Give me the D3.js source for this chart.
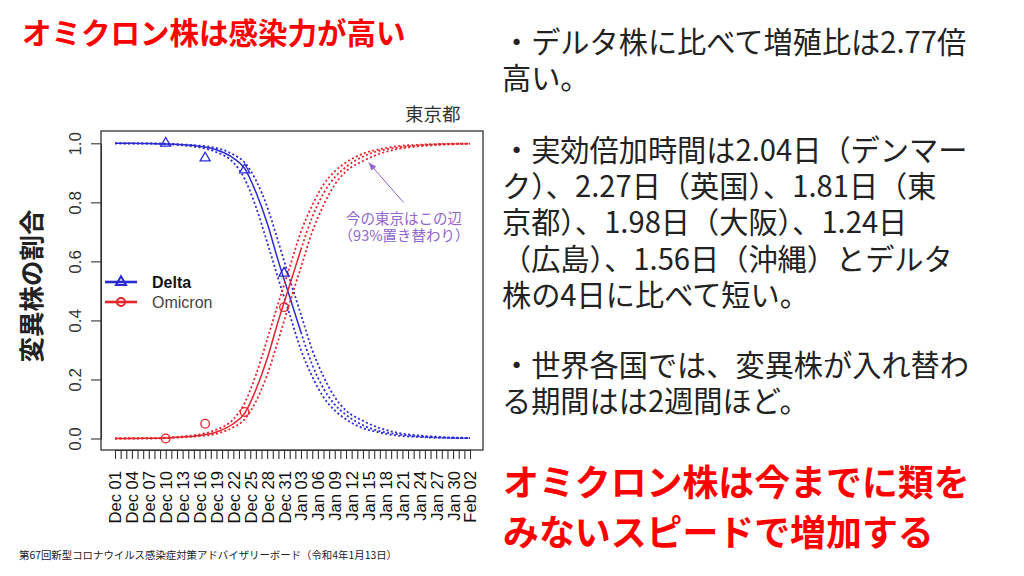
<!DOCTYPE html>
<html>
<head>
<meta charset="utf-8">
<script src="https://cdn.jsdelivr.net/npm/d3@7"></script>
<style>
  html, body { margin: 0; padding: 0; background: #fff; }
  svg { display: block; }
</style>
</head>
<body>
<svg id="chart" width="1024" height="576"></svg>
<script>
// ---------------- data ----------------
const titleText = "オミクロン株は感染力が高い";
const regionLabel = "東京都";
const yAxisTitle = "変異株の割合";
const seriesNames = ["Delta", "Omicron"];

const xTickLabels = ["Dec 01","Dec 04","Dec 07","Dec 10","Dec 13","Dec 16","Dec 19","Dec 22","Dec 25","Dec 28","Dec 31",
                     "Jan 03","Jan 06","Jan 09","Jan 12","Jan 15","Jan 18","Jan 21","Jan 24","Jan 27","Jan 30","Feb 02"];
const yTickValues = [0.0, 0.2, 0.4, 0.6, 0.8, 1.0];

// observed weekly proportions
const obsDates   = ["2021-12-10","2021-12-17","2021-12-24","2021-12-31"];
const deltaObs   = [1.00, 0.95, 0.91, 0.56];
const omicronObs = [0.00, 0.05, 0.09, 0.445];

// fitted curves
const curveDates = ["2021-12-01","2021-12-04","2021-12-07","2021-12-10","2021-12-13","2021-12-16","2021-12-19","2021-12-22",
                    "2021-12-24","2021-12-26","2021-12-28","2021-12-30","2022-01-01","2022-01-03","2022-01-05","2022-01-07",
                    "2022-01-09","2022-01-11","2022-01-14","2022-01-17","2022-01-20","2022-01-24","2022-01-28","2022-02-02"];
const omicronFit   = [0.000,0.000,0.001,0.002,0.005,0.010,0.022,0.050,0.085,0.165,0.270,0.400,0.520,0.640,0.750,0.830,0.885,0.920,0.955,0.975,0.985,0.993,0.997,0.999];
const omicronUpper = [0.000,0.001,0.001,0.003,0.007,0.014,0.030,0.065,0.120,0.215,0.335,0.460,0.580,0.700,0.790,0.860,0.905,0.935,0.965,0.980,0.990,0.995,0.998,0.999];
const omicronLower = [0.000,0.000,0.000,0.001,0.004,0.008,0.016,0.038,0.065,0.125,0.215,0.335,0.460,0.580,0.700,0.790,0.860,0.905,0.940,0.965,0.980,0.990,0.995,0.998];
const deltaFit     = [1.000,1.000,0.999,0.998,0.995,0.990,0.978,0.950,0.915,0.835,0.730,0.600,0.480,0.360,0.250,0.170,0.115,0.080,0.045,0.025,0.015,0.007,0.003,0.001];
const deltaUpper   = [1.000,1.000,1.000,0.999,0.996,0.992,0.984,0.962,0.935,0.875,0.785,0.665,0.540,0.420,0.300,0.210,0.140,0.095,0.060,0.035,0.020,0.010,0.005,0.002];
const deltaLower   = [1.000,0.999,0.999,0.997,0.993,0.986,0.970,0.935,0.880,0.785,0.665,0.540,0.420,0.300,0.210,0.140,0.095,0.065,0.035,0.020,0.010,0.005,0.002,0.001];
const fitEndDate = "2022-01-03";   // solid fit up to here, projection afterwards

const annotDate = "2022-01-15";
const annotValue = 0.935;
const annotLines = ["今の東京はこの辺", "（93%置き替わり）"];

const notes = [
  ["・デルタ株に比べて増殖比は2.77倍", "高い。"],
  ["・実効倍加時間は2.04日（デンマー", "ク）、2.27日（英国）、1.81日（東", "京都）、1.98日（大阪）、1.24日", "（広島）、1.56日（沖縄）とデルタ", "株の4日に比べて短い。"],
  ["・世界各国では、変異株が入れ替わ", "る期間はは2週間ほど。"]
];
const conclusion = ["オミクロン株は今までに類を", "みないスピードで増加する"];
const footerText = "第67回新型コロナウイルス感染症対策アドバイザリーボード（令和4年1月13日）";

// ---------------- drawing ----------------
const svg = d3.select("#chart");
svg.append("rect").attr("width", 1024).attr("height", 576).attr("fill", "#fff");

const JP = "'Noto Sans CJK JP', 'Noto Sans', sans-serif";
const LAT = "'Liberation Sans', Arial, sans-serif";
const BLUE = "#2a2ad4";
const RED = "#e4232b";
const PURPLE = "#9266cf";

const parse = d3.utcParse("%Y-%m-%d");
const fmt = d3.utcFormat("%b %d");

const x = d3.scaleUtc().domain([parse("2021-12-01"), parse("2022-02-02")]).range([115, 470]);
const y = d3.scaleLinear().domain([0, 1]).range([438.5, 143.3]);

const plot = { left: 101, right: 483, top: 131, bottom: 450 };

// title
svg.append("text").attr("x", 22).attr("y", 44)
  .attr("font-family", JP).attr("font-weight", 700).attr("font-size", 29.5)
  .attr("fill", "#ff0000").text(titleText);

svg.append("text").attr("x", 405).attr("y", 121)
  .attr("font-family", JP).attr("font-size", 18.5).attr("fill", "#333").text(regionLabel);

// plot box
svg.append("rect").attr("x", plot.left).attr("y", plot.top)
  .attr("width", plot.right - plot.left).attr("height", plot.bottom - plot.top)
  .attr("fill", "none").attr("stroke", "#333").attr("stroke-width", 1.3);

// x axis
const start = parse("2021-12-01"), end = parse("2022-02-02");
const labelSet = new Set(xTickLabels);
const xAxis = d3.axisBottom(x)
  .tickValues(d3.utcDay.range(start, d3.utcDay.offset(end, 1)))
  .tickSize(9).tickSizeOuter(0)
  .tickFormat(d => labelSet.has(fmt(d)) ? fmt(d) : "");
const gx = svg.append("g").attr("transform", `translate(0,${plot.bottom})`).call(xAxis);
gx.attr("font-family", LAT).attr("font-size", 16.6);
gx.selectAll("path, line").attr("stroke", "#333").attr("stroke-width", 1.1);
gx.selectAll("text")
  .attr("transform", "rotate(-90)")
  .attr("x", -21).attr("y", 0).attr("dy", "0.36em")
  .attr("text-anchor", "end").attr("fill", "#111");

// y axis
const yAxis = d3.axisLeft(y).tickValues(yTickValues).tickSize(10).tickSizeOuter(0).tickFormat(d3.format(".1f"));
const gy = svg.append("g").attr("transform", `translate(${plot.left},0)`).call(yAxis);
gy.attr("font-family", LAT).attr("font-size", 17);
gy.selectAll("path, line").attr("stroke", "#333").attr("stroke-width", 1.1);
gy.selectAll("text")
  .attr("transform", "rotate(-90)")
  .attr("x", 0).attr("y", -26).attr("dy", "0.36em")
  .attr("text-anchor", "middle").attr("fill", "#333");

svg.append("text")
  .attr("transform", `translate(32,${(y(0) + y(1)) / 2 - 5}) rotate(-90)`)
  .attr("text-anchor", "middle").attr("dy", "0.36em")
  .attr("font-family", JP).attr("font-weight", 700).attr("font-size", 25.5)
  .attr("fill", "#222").text(yAxisTitle);

// curves
const line = d3.line().x(d => x(d.date)).y(d => y(d.v)).curve(d3.curveMonotoneX);
const toPts = vals => curveDates.map((s, i) => ({ date: parse(s), v: vals[i] }));
const endFit = parse(fitEndDate);

function drawSeries(fit, up, lo, color) {
  const pts = toPts(fit);
  const dotted = "2,2.4";
  [up, lo].forEach(arr => {
    svg.append("path").attr("d", line(toPts(arr))).attr("fill", "none")
      .attr("stroke", color).attr("stroke-width", 1.8).attr("stroke-dasharray", dotted);
  });
  svg.append("path").attr("d", line(pts.filter(p => p.date <= endFit))).attr("fill", "none")
    .attr("stroke", color).attr("stroke-width", 1.5);
  svg.append("path").attr("d", line(pts.filter(p => p.date >= endFit))).attr("fill", "none")
    .attr("stroke", color).attr("stroke-width", 1.8).attr("stroke-dasharray", dotted);
}
drawSeries(deltaFit, deltaUpper, deltaLower, BLUE);
drawSeries(omicronFit, omicronUpper, omicronLower, RED);

// observed markers
const tri = d3.symbol().type(d3.symbolTriangle).size(44);
obsDates.forEach((s, i) => {
  svg.append("path").attr("d", tri())
    .attr("transform", `translate(${x(parse(s))},${y(deltaObs[i])})`)
    .attr("fill", "none").attr("stroke", BLUE).attr("stroke-width", 1.3);
  svg.append("circle").attr("cx", x(parse(s))).attr("cy", y(omicronObs[i])).attr("r", 4.3)
    .attr("fill", "none").attr("stroke", RED).attr("stroke-width", 1.3);
});

// legend
const legend = [{ name: seriesNames[0], color: BLUE, y: 282, sym: "tri", weight: 700, fill: "#111" },
                { name: seriesNames[1], color: RED, y: 302, sym: "circ", weight: 400, fill: "#444" }];
legend.forEach(l => {
  svg.append("line").attr("x1", 105).attr("x2", 137).attr("y1", l.y).attr("y2", l.y)
    .attr("stroke", l.color).attr("stroke-width", 2.6);
  if (l.sym === "tri") {
    svg.append("path").attr("d", tri()).attr("transform", `translate(121,${l.y})`)
      .attr("fill", "none").attr("stroke", l.color).attr("stroke-width", 2);
  } else {
    svg.append("circle").attr("cx", 121).attr("cy", l.y).attr("r", 4)
      .attr("fill", "none").attr("stroke", l.color).attr("stroke-width", 2);
  }
  svg.append("text").attr("x", 152).attr("y", l.y + 6)
    .attr("font-family", LAT).attr("font-size", 16).attr("font-weight", l.weight)
    .attr("fill", l.fill).text(l.name);
});

// annotation
const tipX = x(parse(annotDate)), tipY = y(annotValue);
const tailX = tipX + 35, tailY = tipY + 40;
svg.append("line").attr("x1", tailX).attr("y1", tailY).attr("x2", tipX).attr("y2", tipY)
  .attr("stroke", PURPLE).attr("stroke-width", 1);
{
  const ang = Math.atan2(tipY - tailY, tipX - tailX);
  const L = 8, Wd = 3.2;
  const bx = tipX - L * Math.cos(ang), by = tipY - L * Math.sin(ang);
  const px = -Math.sin(ang) * Wd, py = Math.cos(ang) * Wd;
  svg.append("path").attr("d", `M${tipX},${tipY}L${bx + px},${by + py}L${bx - px},${by - py}Z`).attr("fill", PURPLE);
}
annotLines.forEach((t, i) => {
  svg.append("text").attr("x", tailX + 0.5).attr("y", tailY + 21.5 + i * 17)
    .attr("text-anchor", "middle").attr("font-family", JP).attr("font-size", 14.5)
    .attr("fill", PURPLE).text(t);
});

// right-hand notes
const paraStarts = [53, 161, 376];
const step = 36.2;
notes.forEach((para, pi) => {
  para.forEach((t, li) => {
    svg.append("text").attr("x", 502).attr("y", paraStarts[pi] + li * step)
      .attr("font-family", JP).attr("font-size", 29.2).attr("fill", "#222").text(t);
  });
});
conclusion.forEach((t, i) => {
  svg.append("text").attr("x", 503).attr("y", 495.5 + i * 50)
    .attr("font-family", JP).attr("font-weight", 700).attr("font-size", 35.9)
    .attr("fill", "#ff0000").text(t);
});

svg.append("text").attr("x", 19).attr("y", 559)
  .attr("font-family", JP).attr("font-size", 10.5).attr("fill", "#222")
  .attr("textLength", 378).attr("lengthAdjust", "spacingAndGlyphs").text(footerText);
</script>
</body>
</html>
